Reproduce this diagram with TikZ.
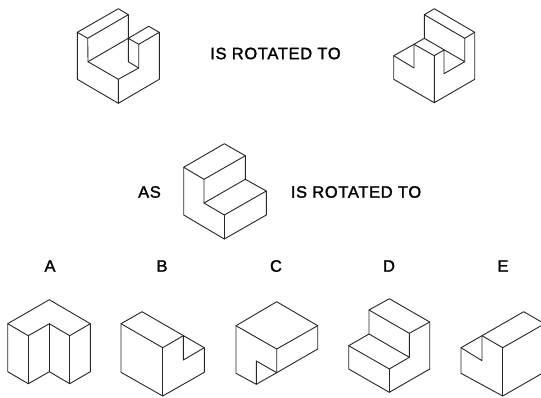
\documentclass[tikz,border=0pt]{standalone}
\usepackage{fontspec}
\setmainfont[LetterSpace=4,FakeBold=1.6]{Liberation Sans}
\tikzset{
  edge/.style={draw=black!85,line width=0.9pt,line join=round,line cap=round},
  lab/.style={inner sep=0pt,font=\fontsize{16.5}{18}\selectfont,text=black}
}
\begin{document}
\begin{tikzpicture}[x=1pt,y=-1pt]
\useasboundingbox (0,0) rectangle (541,397);
\clip (0,0) rectangle (541,397);
% labels
\node[lab] (t1) at (275.5,53.5) {IS ROTATED TO};
\node[lab] (t2) at (149.5,192) {AS};
\node[lab] (t3) at (356,192) {IS ROTATED TO};
\node[lab] (la) at (50,266) {A};
\node[lab] (lb) at (162,266) {B};
\node[lab] (lc) at (276,266) {C};
\node[lab] (ld) at (389,266) {D};
\node[lab] (le) at (503,266) {E};
% figure 1
\draw[edge] (77.3,32.3)--(118.3,8.7)--(128.3,14.7)--(87.7,38.3)--cycle;
\draw[edge] (77.3,32.3)--(77.3,79.3)--(118.3,103.3)--(159.3,79.3)--(159.3,32.3)--(148.7,26.3)--(128.3,38.3)--(138.7,44.3)--(159.3,32.3);
\draw[edge] (87.7,38.3)--(88,61.7)--(118.3,79.3)--(118.3,103.3);
\draw[edge] (118.3,79.3)--(138.7,68)--(138.7,44.3);
\draw[edge] (128.3,14.7)--(128.3,61.7)--(138.7,68);
\draw[edge] (88,61.7)--(128.3,38.3);
% figure 2
\draw[edge] (424.3,38.3)--(424.3,14.7)--(434.3,8.7)--(474.7,32.3)--(464.7,38.3)--(424.3,14.7);
\draw[edge] (474.7,32.3)--(474.7,79.3)--(434.3,102.7)--(393.7,79.3)--(393.7,55.7)--(414,44.3)--(434.3,55.7)--(434.3,102.7);
\draw[edge] (393.7,55.7)--(414,68)--(414,44.3)--(424.3,38.3)--(464.7,61.7)--(464.7,38.3);
\draw[edge] (434.3,55.7)--(444,50)--(444,73.7)--(464.7,61.7);
% figure 3
\draw[edge] (183.7,167.3)--(224.3,143.7)--(245.3,155.7)--(204,179.3)--cycle;
\draw[edge] (183.7,167.3)--(183.7,215)--(224.3,239)--(266.3,215)--(266.3,191)--(245.3,179.3)--(245.3,155.7);
\draw[edge] (204,179.3)--(204,203)--(224.3,215)--(266.3,191);
\draw[edge] (204,203)--(245.3,179.3);
\draw[edge] (224.3,215)--(224.3,239);
% A
\draw[edge] (7.7,323.7)--(49.3,299.7)--(90.3,323.7)--(90.3,371.7)--(69.7,383.7)--(49.3,371.7)--(28.3,383.7)--(7.7,371.7)--cycle;
\draw[edge] (7.7,323.7)--(28.3,335.7)--(49.3,323.7)--(69.7,335.7)--(90.3,323.7);
\draw[edge] (28.3,335.7)--(28.3,383.7);
\draw[edge] (49.3,323.7)--(49.3,371.7);
\draw[edge] (69.7,335.7)--(69.7,383.7);
% B
\draw[edge] (121,323.7)--(142,311.7)--(204.3,347.7)--(204.3,372.3)--(162.7,396)--(121,372.3)--cycle;
\draw[edge] (121,323.7)--(162.7,347.7)--(183.3,335.7)--(183.3,360)--(204.3,347.7);
\draw[edge] (162.7,347.7)--(162.7,396);
% C
\draw[edge] (236,325.7)--(276.7,301.7)--(317.7,325.7)--(317.7,349)--(276.7,372.7)--(256.3,384.3)--(236,373.3)--cycle;
\draw[edge] (236,325.7)--(276.7,349)--(317.7,325.7);
\draw[edge] (276.7,349)--(276.7,372.7)--(256.3,361)--(256.3,384.3);
% D
\draw[edge] (369,310)--(389.3,298.7)--(429.7,322)--(409.3,333.3)--cycle;
\draw[edge] (429.7,322)--(429.7,369)--(389.3,392.3)--(348.7,369)--(348.7,345.7)--(369,334)--(369,310);
\draw[edge] (348.7,345.7)--(389.3,369)--(409.3,357.3)--(409.3,333.3);
\draw[edge] (369,334)--(409.3,357.3);
\draw[edge] (389.3,369)--(389.3,392.3);
% E
\draw[edge] (545,324)--(523.7,311.7)--(482,335.7)--(461,347.7)--(461,373.3)--(502.7,396)--(545,371.7);
\draw[edge] (482,335.7)--(502.7,347.7)--(545,323.5);
\draw[edge] (461,347.7)--(482,360.7)--(482,335.7);
\draw[edge] (502.7,347.7)--(502.7,396);
\end{tikzpicture}
\end{document}
